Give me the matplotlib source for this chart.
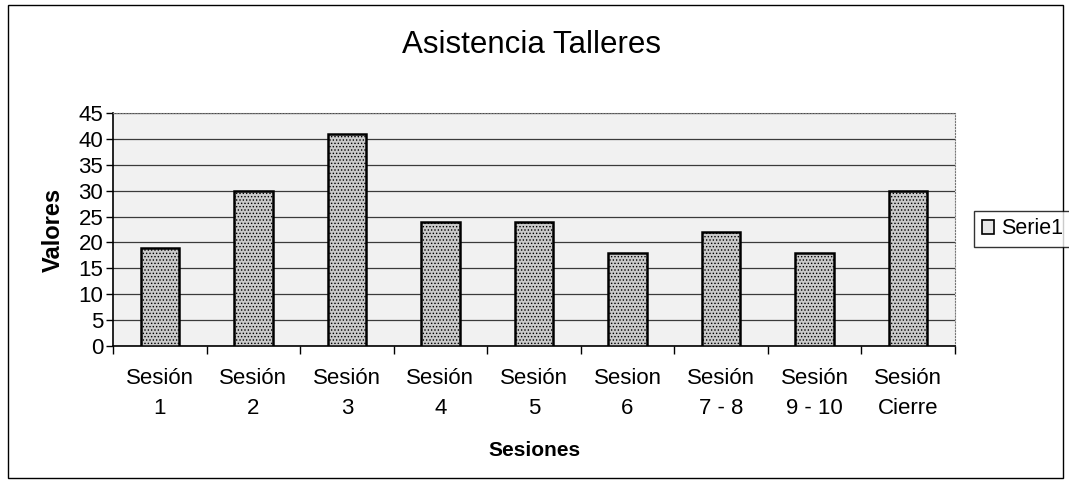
import numpy as np
import matplotlib.pyplot as plt
from matplotlib.patches import Rectangle
import matplotlib as mpl

categorias = ["Sesión\n1", "Sesión\n2", "Sesión\n3", "Sesión\n4", "Sesión\n5",
              "Sesion\n6", "Sesión\n7 - 8", "Sesión\n9 - 10", "Sesión\nCierre"]
valores = [19, 30, 41, 24, 24, 18, 22, 18, 30]

mpl.rcParams['font.family'] = ['Liberation Sans', 'DejaVu Sans']
mpl.rcParams['hatch.color'] = '#7a7a7a'
mpl.rcParams['hatch.linewidth'] = 0.6

fig = plt.figure(figsize=(10.69, 4.84), dpi=100)
ax = fig.add_axes([113/1069, 1 - 346/484, (955-113)/1069, (346-113)/484])
ax.set_facecolor('#f1f1f1')

x = np.arange(len(valores))
ax.bar(x, valores, width=0.41, facecolor='#cacaca', edgecolor='black',
       linewidth=1.8, hatch='.....', label='Serie1', zorder=3)

ax.set_xlim(-0.5, len(valores) - 0.5)
ax.set_ylim(0, 45)
ax.set_yticks(np.arange(0, 46, 5))
ax.yaxis.grid(True, color='#3a3a3a', linewidth=0.9, zorder=0)
ax.set_axisbelow(True)

ax.set_xticks(x)
ax.set_xticklabels(categorias, fontsize=16, linespacing=1.55)
ax.set_xticks(np.arange(-0.5, len(valores), 1), minor=True)
ax.tick_params(axis='x', which='major', length=0, pad=16)
ax.tick_params(axis='x', which='minor', length=6, width=1, direction='out')
ax.tick_params(axis='y', labelsize=16, length=5, width=1, direction='out', pad=2)

for s in ['top', 'right']:
    ax.spines[s].set_color('#777777')
    ax.spines[s].set_linestyle(':')
    ax.spines[s].set_linewidth(0.8)
ax.spines['left'].set_linewidth(1.2)
ax.spines['bottom'].set_linewidth(1.2)

ax.set_ylabel('Valores', fontsize=17, fontweight='bold', labelpad=10)
ax.set_xlabel('Sesiones', fontsize=15, fontweight='bold', labelpad=16)

fig.text(532/1069, 1 - 45/484, 'Asistencia Talleres', fontsize=22.5,
         ha='center', va='center')

leg = fig.legend(loc='center left', bbox_to_anchor=(974/1069, 1 - 229/484),
                 fontsize=15.5, frameon=True, fancybox=False, handlelength=0.6,
                 handleheight=0.6, handletextpad=0.3, borderpad=0.35,
                 borderaxespad=0)
leg.get_frame().set_edgecolor('black')
leg.get_frame().set_linewidth(1.0)
for h in leg.legend_handles:
    h.set_hatch(None)
    h.set_facecolor('#e6e6e6')
    h.set_linewidth(1.2)

fig.patches.append(Rectangle((8/1069, 1 - 478/484), (1063-8)/1069, (478-5)/484,
                             transform=fig.transFigure, fill=False,
                             edgecolor='black', linewidth=1.0))

fig.savefig('out.png', dpi=100)
